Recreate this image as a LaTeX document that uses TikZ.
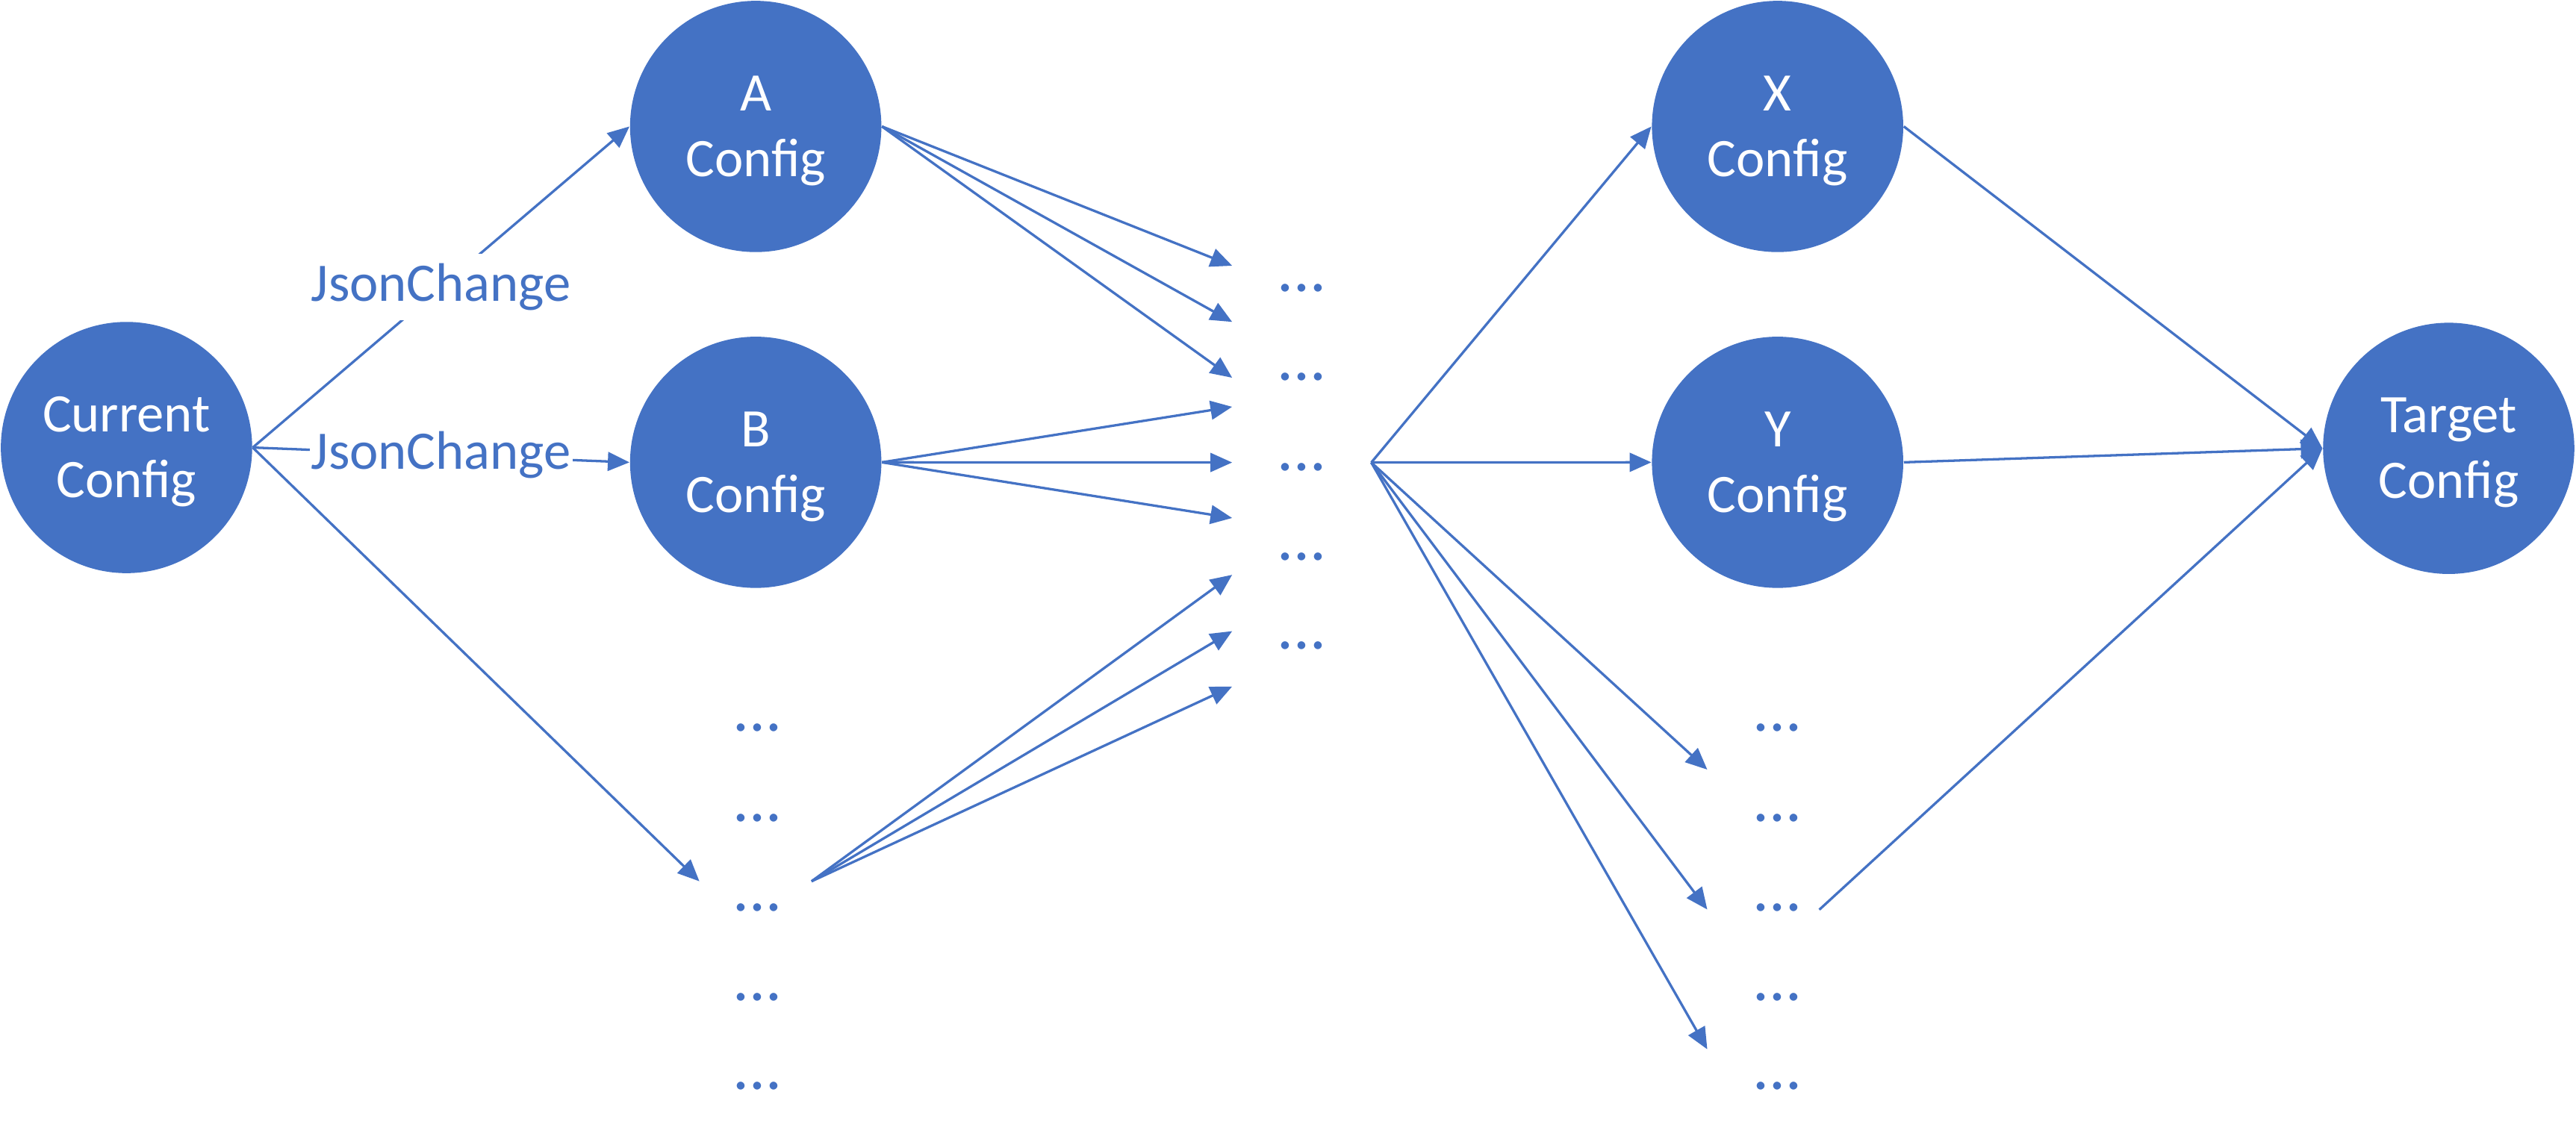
\documentclass[tikz,border=0pt]{standalone}
\usepackage{fontspec}
\setmainfont{Carlito}
\usetikzlibrary{arrows.meta}
\definecolor{cfgblue}{HTML}{4472C4}
\newcommand{\cfgfont}{\fontsize{18.8}{22.9}\selectfont}
\newcommand{\dotsfont}{\fontsize{22.5}{27}\selectfont}

\begin{document}
\begin{tikzpicture}[x=0.02cm, y=-0.02cm,
    config/.style={circle, fill=cfgblue, text=white, minimum size=3.06cm,
      inner sep=0pt, align=center, font=\cfgfont, text height=38pt},
    dots/.style={text=cfgblue, inner sep=0pt, font=\dotsfont},
    change/.style={fill=white, text=cfgblue, inner xsep=0.5pt, inner ysep=3.3pt,
      font=\cfgfont},
    arr/.style={-{Triangle[length=7.5pt, width=6.5pt]}, draw=cfgblue,
      line width=0.85pt}]
\useasboundingbox (0,0) rectangle (1568,699);

% configs
\node[config] (cur) at (77,272.5) {Current\\Config};
\node[config] (a) at (460,77) {A\\Config};
\node[config] (b) at (460,281.5) {B\\Config};
\node[config] (x) at (1082,77) {X\\Config};
\node[config] (y) at (1082,281.5) {Y\\Config};
\node[config] (tgt) at (1490.5,273) {Target\\Config};

% dots
\foreach \i/\yy in {1/443.3, 2/498, 3/552.4, 4/607, 5/661.4} {
  \node[dots] (l\i) at (461,\yy) {...};
  \node[dots] (r\i) at (1082,\yy) {...};
}
\foreach \i/\yy in {1/175.4, 2/229.6, 3/284.4, 4/339, 5/393}
  \node[dots] (m\i) at (792.5,\yy) {...};

% free ends
\coordinate (lin) at (425.7,536.6);
\coordinate (lout) at (494,536.6);
\coordinate (mout) at (834.7,281.6);
\coordinate (rout) at (1107.4,553.9);
\foreach \i/\yy in {1/161.8, 2/196, 3/230} \coordinate (ma\i) at (750,\yy);
\foreach \i/\yy in {1/247.7, 2/281.6, 3/315.4} \coordinate (mb\i) at (750,\yy);
\foreach \i/\yy in {1/350, 2/384.3, 3/418} \coordinate (mc\i) at (750,\yy);
\foreach \i/\yy in {1/468.6, 2/553.8, 3/638.9} \coordinate (rin\i) at (1039.2,\yy);

% changes
\draw[arr] (cur.east) -- node[change] {JsonChange} (a.west);
\draw[arr] (cur.east) -- node[change] {JsonChange} (b.west);
\draw[arr] (cur.east) -- (lin);

\foreach \i in {1,2,3} {
  \draw[arr] (a.east) -- (ma\i);
  \draw[arr] (b.east) -- (mb\i);
  \draw[arr] (lout) -- (mc\i);
  \draw[arr] (mout) -- (rin\i);
}
\draw[arr] (mout) -- (x.west);
\draw[arr] (mout) -- (y.west);

\draw[arr] (x.east) -- (tgt.west);
\draw[arr] (y.east) -- (tgt.west);
\draw[arr] (rout) -- (tgt.west);

\end{tikzpicture}
\end{document}
